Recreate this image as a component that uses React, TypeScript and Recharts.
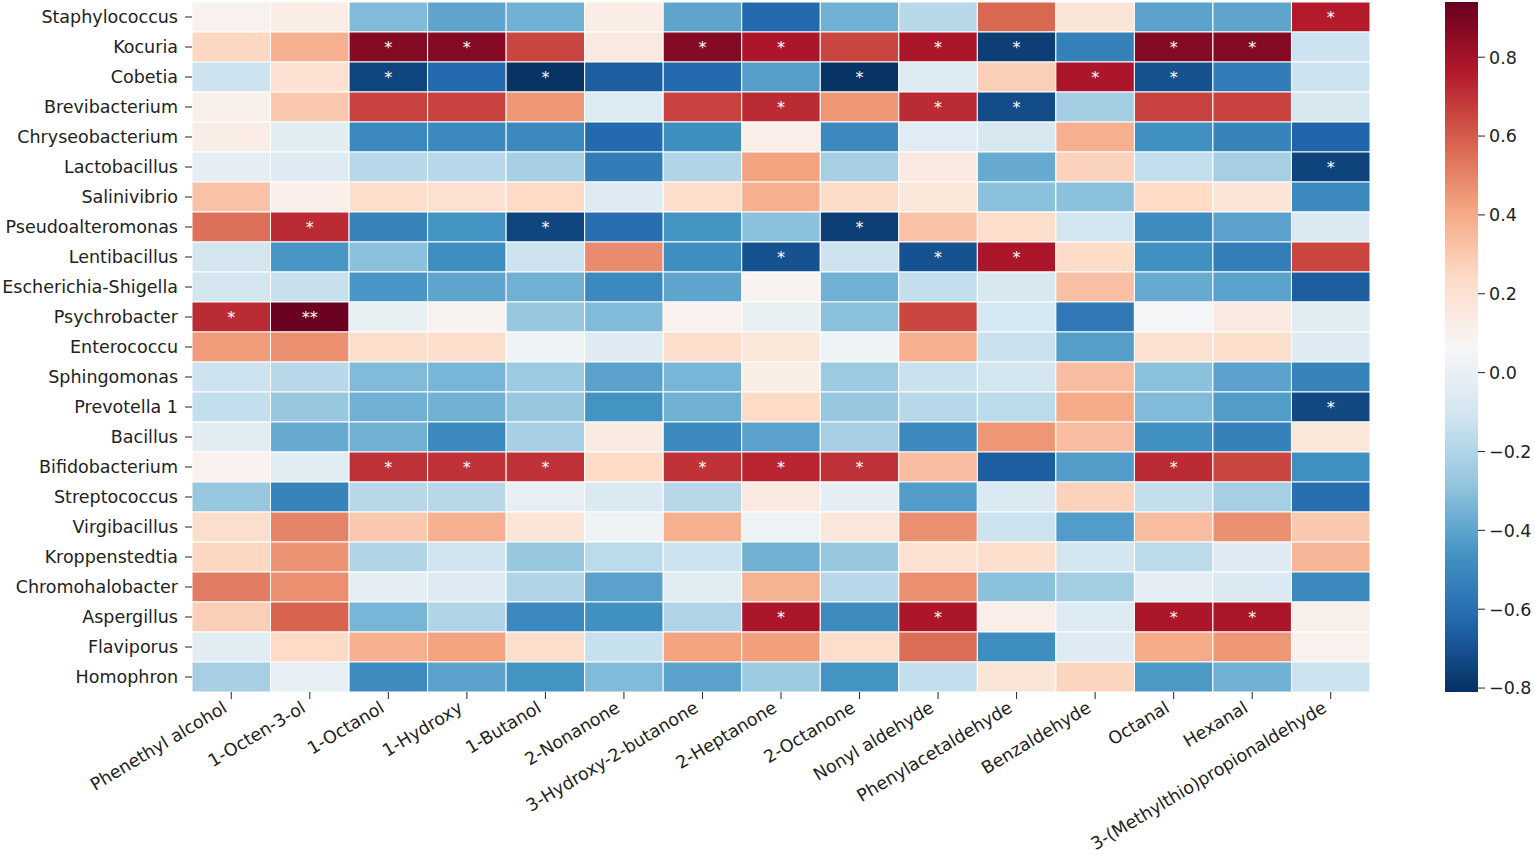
import React from 'react';
import { BarChart, Bar, XAxis, YAxis, Cell, LabelList } from 'recharts';

const taxa = [
  'Staphylococcus', 'Kocuria', 'Cobetia', 'Brevibacterium', 'Chryseobacterium',
  'Lactobacillus', 'Salinivibrio', 'Pseudoalteromonas', 'Lentibacillus',
  'Escherichia-Shigella', 'Psychrobacter', 'Enterococcu', 'Sphingomonas',
  'Prevotella 1', 'Bacillus', 'Bifidobacterium', 'Streptococcus', 'Virgibacillus',
  'Kroppenstedtia', 'Chromohalobacter', 'Aspergillus', 'Flaviporus', 'Homophron',
];

const compounds = [
  'Phenethyl alcohol', '1-Octen-3-ol', '1-Octanol', '1-Hydroxy', '1-Butanol',
  '2-Nonanone', '3-Hydroxy-2-butanone', '2-Heptanone', '2-Octanone', 'Nonyl aldehyde',
  'Phenylacetaldehyde', 'Benzaldehyde', 'Octanal', 'Hexanal',
  '3-(Methylthio)propionaldehyde',
];

// correlation per taxon (rows) x compound (columns)
const corr = [
  [0.1, 0.13, -0.32, -0.4, -0.36, 0.13, -0.4, -0.62, -0.36, -0.18, 0.57, 0.18, -0.41, -0.4, 0.76],
  [0.25, 0.38, 0.87, 0.87, 0.65, 0.15, 0.87, 0.78, 0.65, 0.78, -0.76, -0.53, 0.87, 0.87, -0.12],
  [-0.12, 0.2, -0.74, -0.62, -0.8, -0.66, -0.62, -0.42, -0.8, -0.06, 0.28, 0.78, -0.7, -0.55, -0.12],
  [0.11, 0.3, 0.66, 0.66, 0.45, -0.06, 0.66, 0.72, 0.45, 0.72, -0.72, -0.24, 0.66, 0.66, -0.08],
  [0.13, -0.03, -0.5, -0.5, -0.5, -0.62, -0.48, 0.12, -0.5, -0.04, -0.08, 0.38, -0.47, -0.52, -0.64],
  [-0.02, -0.05, -0.18, -0.18, -0.23, -0.55, -0.2, 0.42, -0.23, 0.15, -0.38, 0.27, -0.15, -0.23, -0.75],
  [0.32, 0.12, 0.22, 0.2, 0.24, -0.05, 0.22, 0.38, 0.23, 0.17, -0.3, -0.3, 0.24, 0.18, -0.5],
  [0.55, 0.72, -0.52, -0.46, -0.74, -0.6, -0.46, -0.3, -0.76, 0.32, 0.22, -0.1, -0.49, -0.41, -0.07],
  [-0.1, -0.45, -0.3, -0.48, -0.12, 0.48, -0.48, -0.7, -0.12, -0.7, 0.78, 0.23, -0.47, -0.54, 0.65],
  [-0.1, -0.14, -0.45, -0.4, -0.36, -0.5, -0.4, 0.09, -0.36, -0.15, -0.08, 0.33, -0.38, -0.41, -0.66],
  [0.72, 0.93, 0.0, 0.09, -0.27, -0.32, 0.1, 0.0, -0.3, 0.65, -0.09, -0.56, 0.05, 0.15, -0.03],
  [0.44, 0.47, 0.22, 0.22, 0.02, -0.05, 0.22, 0.17, 0.03, 0.38, -0.13, -0.42, 0.2, 0.22, -0.05],
  [-0.12, -0.18, -0.32, -0.34, -0.26, -0.41, -0.34, 0.13, -0.26, -0.13, -0.1, 0.34, -0.3, -0.41, -0.52],
  [-0.15, -0.27, -0.36, -0.36, -0.27, -0.46, -0.36, 0.24, -0.27, -0.18, -0.17, 0.4, -0.32, -0.43, -0.73],
  [-0.03, -0.38, -0.36, -0.5, -0.23, 0.14, -0.5, -0.41, -0.23, -0.5, 0.45, 0.34, -0.47, -0.53, 0.17],
  [0.1, -0.03, 0.7, 0.7, 0.7, 0.24, 0.7, 0.73, 0.7, 0.34, -0.66, -0.43, 0.72, 0.65, -0.47],
  [-0.27, -0.52, -0.18, -0.18, -0.01, -0.07, -0.18, 0.15, -0.02, -0.43, -0.07, 0.27, -0.15, -0.23, -0.6],
  [0.22, 0.5, 0.3, 0.38, 0.18, 0.03, 0.38, 0.02, 0.17, 0.47, -0.12, -0.43, 0.34, 0.47, 0.3],
  [0.25, 0.46, -0.2, -0.11, -0.27, -0.17, -0.12, -0.36, -0.27, 0.2, 0.22, -0.1, -0.17, -0.05, 0.36],
  [0.52, 0.47, -0.02, -0.05, -0.2, -0.41, -0.03, 0.37, -0.18, 0.47, -0.3, -0.24, -0.02, -0.07, -0.5],
  [0.28, 0.58, -0.34, -0.2, -0.5, -0.47, -0.2, 0.78, -0.49, 0.78, 0.12, -0.06, 0.78, 0.78, 0.11],
  [-0.03, 0.24, 0.38, 0.42, 0.22, -0.14, 0.42, 0.43, 0.22, 0.56, -0.48, -0.05, 0.4, 0.45, 0.1],
  [-0.23, -0.01, -0.49, -0.41, -0.46, -0.32, -0.41, -0.26, -0.46, -0.15, 0.18, 0.26, -0.44, -0.36, -0.12],
];

// [taxon index, compound index, mark]
const significance: [number, number, string][] = [
  [0, 14, '*'],
  [1, 2, '*'], [1, 3, '*'], [1, 6, '*'], [1, 7, '*'], [1, 9, '*'], [1, 10, '*'], [1, 12, '*'], [1, 13, '*'],
  [2, 2, '*'], [2, 4, '*'], [2, 8, '*'], [2, 11, '*'], [2, 12, '*'],
  [3, 7, '*'], [3, 9, '*'], [3, 10, '*'],
  [5, 14, '*'],
  [7, 1, '*'], [7, 4, '*'], [7, 8, '*'],
  [8, 7, '*'], [8, 9, '*'], [8, 10, '*'],
  [10, 0, '*'], [10, 1, '**'],
  [13, 14, '*'],
  [15, 2, '*'], [15, 3, '*'], [15, 4, '*'], [15, 6, '*'], [15, 7, '*'], [15, 8, '*'], [15, 12, '*'],
  [20, 7, '*'], [20, 9, '*'], [20, 12, '*'], [20, 13, '*'],
];

const cbTicks = [0.8, 0.6, 0.4, 0.2, 0.0, -0.2, -0.4, -0.6, -0.8];

const VMIN = -0.81;
const VMAX = 0.94;

// matplotlib RdBu stops (red -> blue)
const rdbu = [
  '#67001f', '#b2182b', '#d6604d', '#f4a582', '#fddbc7', '#f7f7f7',
  '#d1e5f0', '#92c5de', '#4393c3', '#2166ac', '#053061',
];

const hex = (h: string) => [1, 3, 5].map((k) => parseInt(h.slice(k, k + 2), 16));

function colorFor(v: number) {
  let t = (v - VMIN) / (VMAX - VMIN);
  t = Math.max(0, Math.min(1, t));
  const s = (1 - t) * 10; // reversed map
  const i = Math.min(9, Math.floor(s));
  const f = s - i;
  const a = hex(rdbu[i]);
  const b = hex(rdbu[i + 1]);
  const c = a.map((x, k) => Math.round(x + (b[k] - x) * f));
  return `rgb(${c[0]},${c[1]},${c[2]})`;
}

const rows = taxa.map((name, i) => {
  const o: any = { name };
  compounds.forEach((_, j) => {
    o[`c${j}`] = 1;
    o[`s${j}`] = '';
  });
  significance.filter((s) => s[0] === i).forEach(([, j, m]) => {
    o[`s${j}`] = m;
  });
  return o;
});

const FONT = 'DejaVu Sans, sans-serif';
const FS = 17.5;

const XTick = (props: any) => {
  const { x, y, payload } = props;
  const label = compounds[Math.floor(payload.value)];
  const ax = x - 3;
  const ay = y + 10;
  return (
    <text
      x={ax}
      y={ay}
      textAnchor="end"
      fontFamily={FONT}
      fontSize={FS}
      fill="#222"
      transform={`rotate(-31, ${ax}, ${ay})`}
    >
      {label}
    </text>
  );
};

const CB_X = 1445;
const CB_W = 33;
const CB_TOP = 2;
const CB_H = 690;
const cbY = (v: number) => CB_TOP + ((VMAX - v) / (VMAX - VMIN)) * CB_H;

const gradStops = Array.from({ length: 41 }, (_, k) => k / 40);

export default function App() {
  return (
    <div style={{ position: 'absolute', left: 0, top: 0, width: 1535, height: 855, background: '#fff' }}>
      <BarChart
        width={1535}
        height={855}
        data={rows}
        layout="vertical"
        margin={{ top: 2, right: 165, bottom: 13, left: 0 }}
        barCategoryGap={0}
        barGap={0}
      >
        <XAxis
          type="number"
          domain={[0, compounds.length]}
          ticks={compounds.map((_, j) => j + 0.5)}
          interval={0}
          height={150}
          axisLine={false}
          tickSize={7}
          tickLine={{ stroke: '#222' }}
          tick={<XTick />}
        />
        <YAxis
          type="category"
          dataKey="name"
          width={192}
          interval={0}
          axisLine={false}
          tickSize={7}
          tickMargin={7}
          tickLine={{ stroke: '#222' }}
          tick={{ fill: '#222', fontSize: FS, fontFamily: FONT }}
        />
        {compounds.map((c, j) => (
          <Bar
            key={c}
            dataKey={`c${j}`}
            stackId="a"
            isAnimationActive={false}
            stroke="#fff"
            strokeWidth={1}
          >
            {corr.map((r, i) => (
              <Cell key={i} fill={colorFor(r[j])} />
            ))}
            <LabelList
              dataKey={`s${j}`}
              position="center"
              fill="#fff"
              fontSize={16}
              fontFamily={FONT}
            />
          </Bar>
        ))}
      </BarChart>
      <svg
        width={1535}
        height={855}
        style={{ position: 'absolute', left: 0, top: 0, pointerEvents: 'none' }}
      >
        <defs>
          <linearGradient id="cb" x1="0" y1="0" x2="0" y2="1">
            {gradStops.map((p) => (
              <stop key={p} offset={p} stopColor={colorFor(VMAX - p * (VMAX - VMIN))} />
            ))}
          </linearGradient>
        </defs>
        <rect x={CB_X} y={CB_TOP} width={CB_W} height={CB_H} fill="url(#cb)" />
        {cbTicks.map((t) => (
          <g key={t}>
            <line x1={CB_X + CB_W} x2={CB_X + CB_W + 7} y1={cbY(t)} y2={cbY(t)} stroke="#222" />
            <text
              x={CB_X + CB_W + 11}
              y={cbY(t)}
              dy="0.36em"
              fontFamily={FONT}
              fontSize={FS}
              fill="#222"
            >
              {t < 0 ? `\u2212${Math.abs(t).toFixed(1)}` : t.toFixed(1)}
            </text>
          </g>
        ))}
      </svg>
    </div>
  );
}
